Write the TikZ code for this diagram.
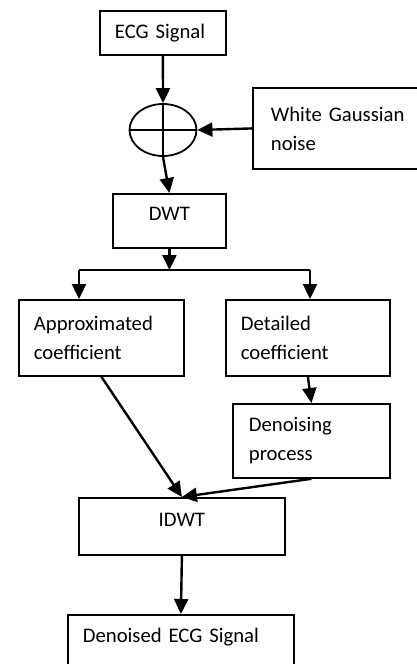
\documentclass[tikz,border=0pt]{standalone}
\usepackage{fontspec}
\setmainfont{Carlito}
\usetikzlibrary{arrows.meta,shapes.geometric}

\tikzset{
  box/.style={draw, line width=1.8pt, anchor=north west, inner xsep=15pt,
    inner ysep=0pt, align=left, font=\fontsize{20.7pt}{29pt}\selectfont},
  midtext/.style={align=center, text height=14pt, text depth=14pt},
  flow/.style={line width=2.4pt, -{Triangle[length=15pt,width=14pt]}},
}

\begin{document}
\begin{tikzpicture}[x=1pt, y=-1pt]
  \useasboundingbox (0,0) rectangle (417,664);
  \clip (0,0) rectangle (417,664);
  % Input signal, noise source and adder
  \node[box, minimum width=126pt, minimum height=44pt, text width=96pt] (ecg) at (99,10) {ECG Signal};
  \node[box, draw=none, minimum width=200pt, minimum height=79pt, text width=166pt, inner xsep=17pt] (noise) at (253,88) {White Gaussian\\noise};
  \draw[line width=1.8pt] (noise.north east) -- (noise.north west) -- (noise.south west) -- (noise.south east);
  \node[draw, ellipse, line width=1.8pt, minimum width=67pt, minimum height=52pt, inner sep=0pt] (sum) at (163,130) {};
  \draw[line width=1.3pt] (sum.north) -- (sum.south) (sum.west) -- (sum.east);
  % Transform and its two outputs
  \node[box, midtext, minimum width=113pt, minimum height=54pt, text width=83pt] (dwt) at (112,193) {DWT};
  \node[box, minimum width=165pt, minimum height=76pt, text width=135pt] (approx) at (18,299) {Approximated\\coefficient};
  \node[box, minimum width=164pt, minimum height=76pt, text width=134pt] (det) at (225,299) {Detailed\\coefficient};
  \node[box, minimum width=157pt, minimum height=74pt, text width=125pt, inner xsep=16pt] (den) at (232,403) {Denoising\\process};
  % Reconstruction
  \node[box, midtext, minimum width=206pt, minimum height=57pt, text width=176pt] (idwt) at (78,497) {IDWT};
  \node[box, minimum width=226pt, minimum height=56pt, text width=196pt, text height=14pt, text depth=14pt] (out) at (67,614) {Denoised ECG Signal};

  % Branch points under the DWT block
  \coordinate (sl) at (79,270);
  \coordinate (sr) at (310,270);

  % Connections
  \draw[flow] (ecg.south) -- (sum.north);
  \draw[flow] (noise.west) -- (sum.east);
  \draw[flow] (sum.south) -- (dwt.north);
  \draw[flow] (dwt.south) -- (dwt.south |- sl);
  \draw[line width=2.4pt] (sl) -- (sr);
  \draw[flow] (sl) -- (sl |- approx.north);
  \draw[flow] (sr) -- (sr |- det.north);
  \draw[flow] (det.south) -- (den.north);
  \draw[flow] (approx.south) -- (idwt.north);
  \draw[flow] (den.south) -- (idwt.north);
  \draw[flow] (idwt.south) -- (out.north);
\end{tikzpicture}
\end{document}
